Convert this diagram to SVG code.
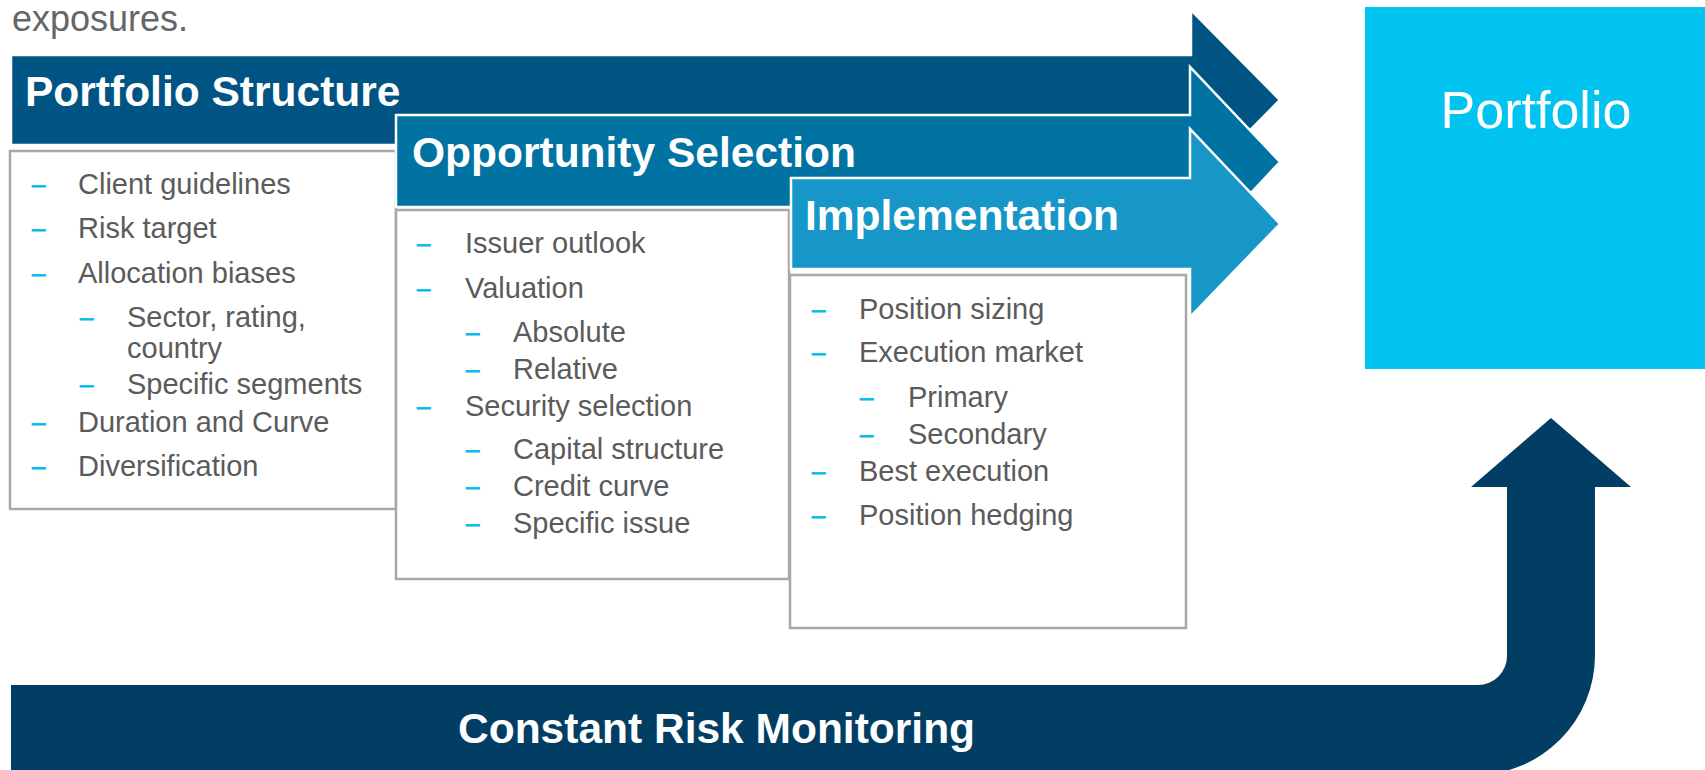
<svg xmlns="http://www.w3.org/2000/svg" width="1705" height="770" viewBox="0 0 1705 770">
<style>
text{font-family:"Liberation Sans",Arial,sans-serif}
.title{font-size:42.5px;font-weight:bold;fill:#fff}
.item{font-size:29px;fill:#5b5b5b}
.dash{font-size:24px;fill:#00bdec;stroke:#00bdec;stroke-width:0.9}
.box{fill:#fff;stroke:#a8a8a8;stroke-width:2.5}
.arr{stroke:#fff;stroke-width:2.5;stroke-linejoin:miter}
</style>
<rect width="1705" height="770" fill="#fff"/>
<text x="12" y="31" style="font-size:36px;fill:#666">exposures.</text>

<g id="portfolio-structure">
<path class="arr" d="M11,55 H1191 V10 L1280,100 L1191,190 V145 H11 Z" fill="#005483"/>
<text class="title" x="25" y="106">Portfolio Structure</text>
<rect class="box" x="10" y="151" width="386" height="358"/>
<g>
<text class="dash" x="32" y="192">–</text><text class="item" x="78" y="194">Client guidelines</text>
<text class="dash" x="32" y="236">–</text><text class="item" x="78" y="238">Risk target</text>
<text class="dash" x="32" y="281">–</text><text class="item" x="78" y="283">Allocation biases</text>
<text class="dash" x="80" y="325">–</text><text class="item" x="127" y="327">Sector, rating,</text>
<text class="item" x="127" y="358">country</text>
<text class="dash" x="80" y="392">–</text><text class="item" x="127" y="394">Specific segments</text>
<text class="dash" x="32" y="430">–</text><text class="item" x="78" y="432">Duration and Curve</text>
<text class="dash" x="32" y="474">–</text><text class="item" x="78" y="476">Diversification</text>
</g>
</g>

<g id="opportunity-selection">
<path class="arr" d="M396,115 H1190 V67 L1280,162 L1190,258 V207 H396 Z" fill="#0073a3"/>
<text class="title" x="412" y="167">Opportunity Selection</text>
<rect class="box" x="396" y="210" width="393" height="369"/>
<g>
<text class="dash" x="417" y="251">–</text><text class="item" x="465" y="253">Issuer outlook</text>
<text class="dash" x="417" y="296">–</text><text class="item" x="465" y="298">Valuation</text>
<text class="dash" x="466" y="340">–</text><text class="item" x="513" y="342">Absolute</text>
<text class="dash" x="466" y="377">–</text><text class="item" x="513" y="379">Relative</text>
<text class="dash" x="417" y="414">–</text><text class="item" x="465" y="416">Security selection</text>
<text class="dash" x="466" y="457">–</text><text class="item" x="513" y="459">Capital structure</text>
<text class="dash" x="466" y="494">–</text><text class="item" x="513" y="496">Credit curve</text>
<text class="dash" x="466" y="531">–</text><text class="item" x="513" y="533">Specific issue</text>
</g>
</g>

<g id="implementation">
<path class="arr" d="M791,178 H1190 V129 L1280,224 L1190,317 V269 H791 Z" fill="#1796c8"/>
<text class="title" x="805" y="230">Implementation</text>
<rect class="box" x="790" y="275" width="396" height="353"/>
<g>
<text class="dash" x="812" y="317">–</text><text class="item" x="859" y="319">Position sizing</text>
<text class="dash" x="812" y="360">–</text><text class="item" x="859" y="362">Execution market</text>
<text class="dash" x="860" y="405">–</text><text class="item" x="908" y="407">Primary</text>
<text class="dash" x="860" y="442">–</text><text class="item" x="908" y="444">Secondary</text>
<text class="dash" x="812" y="479">–</text><text class="item" x="859" y="481">Best execution</text>
<text class="dash" x="812" y="523">–</text><text class="item" x="859" y="525">Position hedging</text>
</g>
</g>

<g id="portfolio">
<rect x="1365" y="7" width="340" height="362" fill="#00c3f0"/>
<text x="1536" y="128" text-anchor="middle" style="font-size:52px;fill:#fff">Portfolio</text>
</g>

<g id="constant-risk-monitoring">
<path d="M11,685 H1478 A29,29 0 0 0 1507,656 V487 H1471 L1551,418 L1631,487 H1595 V655 A120,120 0 0 1 1475,775 H11 Z" fill="#023d63"/>
<text class="title" x="458" y="743">Constant Risk Monitoring</text>
</g>

<g id="connectors"></g>
</svg>
